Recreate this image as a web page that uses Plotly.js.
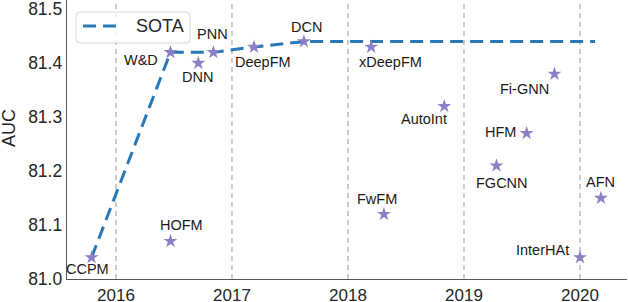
<!DOCTYPE html>
<html>
<head>
<meta charset="utf-8">
<script src="https://cdn.plot.ly/plotly-3.0.1.min.js"></script>
<style>html,body{margin:0;padding:0;background:#fff;}#chart{width:628px;height:302px;}</style>
</head>
<body>
<div id="chart"></div>
<script>
// Model names, publication year (fractional) and AUC
const models = ["CCPM","HOFM","W&D","DNN","PNN","DeepFM","DCN","xDeepFM","AutoInt","Fi-GNN","HFM","FwFM","FGCNN","AFN","InterHAt"];
const years  = [2015.79,2016.47,2016.47,2016.71,2016.84,2017.19,2017.62,2018.20,2018.83,2019.78,2019.54,2018.31,2019.28,2020.18,2020.00];
const auc    = [81.04,81.07,81.42,81.40,81.42,81.43,81.44,81.43,81.32,81.38,81.27,81.12,81.21,81.15,81.04];

// SOTA frontier
const sotaYears = [2015.79,2016.47,2016.84,2017.19,2017.62,2020.13];
const sotaAuc   = [81.04,81.42,81.42,81.43,81.44,81.44];

const yearTicks = [2016,2017,2018,2019,2020];
const aucTicks  = [81.0,81.1,81.2,81.3,81.4,81.5];

// label offsets (pixels) relative to each star
const labelDx = [-4,11,-29,-1,-1,9,3,19,-20,-30,-26,-7,6,0,-38];
const labelDy = [12,-16,8,14,-18,15,-15,15,13,15,-1,-15,17,-16,-7];

const font = "Liberation Sans, Arial, sans-serif";
const blue = "#2878b8";

const traces = [
  {
    x: sotaYears, y: sotaAuc, type: "scatter", mode: "lines", name: "SOTA",
    line: {color: blue, width: 3, dash: "13px,7px"}, showlegend: false
  },
  {
    x: years, y: auc, type: "scatter", mode: "markers", name: "models",
    marker: {symbol: "star", size: 10.5, color: "#8a80c6", line: {width: 0}},
    showlegend: false, cliponaxis: false
  }
];

const shapes = yearTicks.map(yr => ({
  type: "line", xref: "x", yref: "paper", x0: yr, x1: yr, y0: 0, y1: 1,
  line: {color: "#aaaaaa", width: 1.2, dash: "5px,4px"}, layer: "below"
}));

// manual legend (pixel geometry converted to paper units)
const W = 560, H = 279;
const px = v => (v - 67) / W, py = v => 1 - v / H;
const bx0 = px(76), bx1 = px(190), by0 = py(43), by1 = py(12);
const rx = 4 / W, ry = 4 / H;
shapes.push({
  type: "path", xref: "paper", yref: "paper", layer: "above",
  path: `M ${bx0+rx} ${by1} L ${bx1-rx} ${by1} Q ${bx1} ${by1} ${bx1} ${by1-ry} L ${bx1} ${by0+ry} Q ${bx1} ${by0} ${bx1-rx} ${by0} L ${bx0+rx} ${by0} Q ${bx0} ${by0} ${bx0} ${by0+ry} L ${bx0} ${by1-ry} Q ${bx0} ${by1} ${bx0+rx} ${by1} Z`,
  fillcolor: "rgba(255,255,255,0.8)", line: {color: "#d6d6d6", width: 1}
});
shapes.push({
  type: "line", xref: "paper", yref: "paper", layer: "above",
  x0: px(83), x1: px(122), y0: py(26), y1: py(26),
  line: {color: blue, width: 3, dash: "13px,7px"}
});

const annotations = models.map((m, i) => ({
  x: years[i], y: auc[i], xref: "x", yref: "y", text: m, showarrow: false,
  xanchor: "center", yanchor: "middle",
  xshift: labelDx[i], yshift: -labelDy[i],
  font: {family: font, size: 14.5, color: "#1a1a1a"}
}));
annotations.push({
  xref: "paper", yref: "paper", x: px(9), y: py(128), text: "AUC", textangle: -90,
  xanchor: "center", yanchor: "middle",
  showarrow: false, font: {family: font, size: 18, color: "#262626"}
});
annotations.push({
  xref: "paper", yref: "paper", x: px(134), y: py(26), text: "SOTA",
  xanchor: "left", yanchor: "middle",
  showarrow: false, font: {family: font, size: 18, color: "#262626"}
});

const layout = {
  width: 628, height: 302,
  margin: {l: 67, r: 1, t: 0, b: 23},
  paper_bgcolor: "#fff", plot_bgcolor: "#fff",
  showlegend: false,
  xaxis: {
    range: [2015.578, 2020.405], tickvals: yearTicks, ticktext: yearTicks.map(String),
    showgrid: false, zeroline: false, showline: true, linecolor: "#555", linewidth: 1.3,
    ticks: "", ticklabeloverflow: "allow", ticklabelstandoff: 0,
    tickfont: {family: font, size: 17, color: "#262626"}
  },
  yaxis: {
    range: [81.0, 81.517], tickvals: aucTicks, ticktext: aucTicks.map(v => v.toFixed(1)),
    showgrid: false, zeroline: false, showline: true, linecolor: "#555", linewidth: 1.3,
    ticks: "", ticklabeloverflow: "allow",
    tickfont: {family: font, size: 17.5, color: "#262626"}
  },
  shapes: shapes,
  annotations: annotations
};

Plotly.newPlot("chart", traces, layout, {displayModeBar: false, staticPlot: true});
</script>
</body>
</html>
